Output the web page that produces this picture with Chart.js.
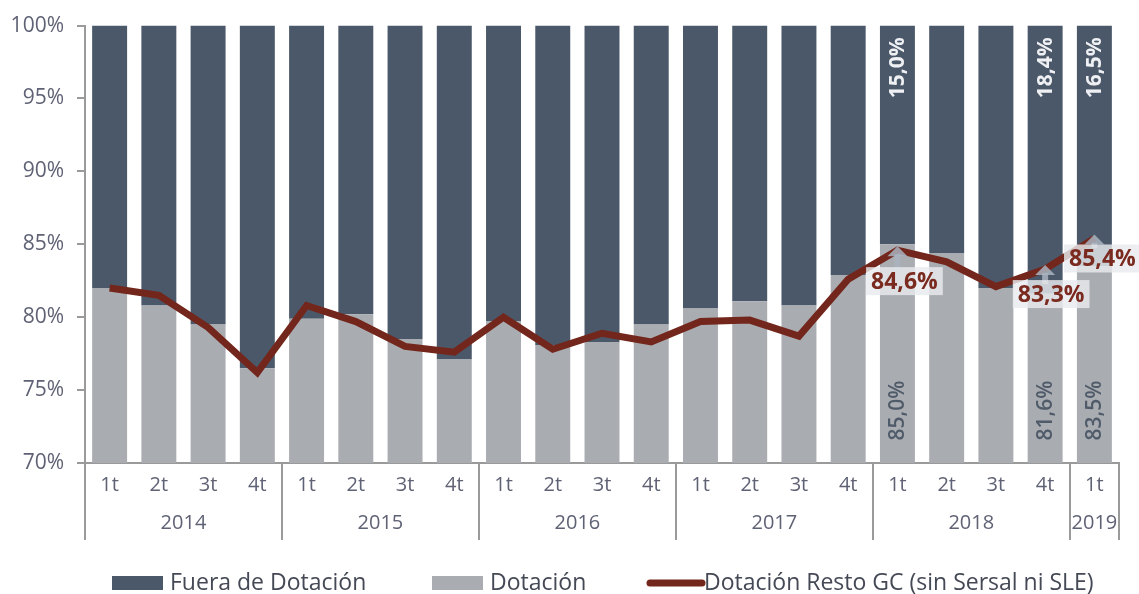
<!DOCTYPE html>
<html>
<head>
<meta charset="utf-8">
<title>Dotación</title>
<script src="https://cdn.jsdelivr.net/npm/chart.js"></script>
<style>
  html, body { margin: 0; padding: 0; background: #fff; }
  #chart { display: block; }
</style>
</head>
<body>
<canvas id="chart" width="1139" height="594"></canvas>
<script>
  const quarters = ['1t','2t','3t','4t','1t','2t','3t','4t','1t','2t','3t','4t','1t','2t','3t','4t','1t','2t','3t','4t','1t'];
  const years = ['2014','2014','2014','2014','2015','2015','2015','2015','2016','2016','2016','2016','2017','2017','2017','2017','2018','2018','2018','2018','2019'];
  const dotacion = [82.0, 80.8, 79.5, 76.5, 79.9, 80.2, 78.5, 77.1, 79.7, 78.1, 78.3, 79.5, 80.6, 81.1, 80.8, 82.9, 85.0, 84.4, 82.0, 81.6, 83.5];
  const fuera = [18.0, 19.2, 20.5, 23.5, 20.1, 19.8, 21.5, 22.9, 20.3, 21.9, 21.7, 20.5, 19.4, 18.9, 19.2, 17.1, 15.0, 15.6, 18.0, 18.4, 16.5];
  const restoGC = [82.0, 81.5, 79.3, 76.2, 80.8, 79.7, 78.0, 77.6, 80.0, 77.8, 78.9, 78.3, 79.7, 79.8, 78.7, 82.6, 84.6, 83.8, 82.1, 83.3, 85.4];
  // which points get a value label
  const barLabelIdx = [16, 19, 20];
  const lineLabelIdx = [16, 19, 20];

  const DARK = '#4b5869';
  const LIGHT = '#a9acb1';
  const LINE = '#73261b';
  const TEXT = '#5f6275';
  const FONT = '"Open Sans", "Noto Sans", sans-serif';

  const fmt = (v) => v.toFixed(1).replace('.', ',') + '%';

  const decorations = {
    id: 'decorations',
    afterDatasetsDraw(chart) {
      const { ctx, scales: { x, y } } = chart;
      const barMeta = chart.getDatasetMeta(0);
      const catW = (x.right - x.left) / quarters.length;

      ctx.save();
      // rotated bar labels
      barLabelIdx.forEach((i) => {
        const cx = barMeta.data[i].x;
        ctx.save();
        ctx.translate(cx + 1, y.getPixelForValue(97.1));
        ctx.rotate(-Math.PI / 2);
        ctx.font = 'bold 21px ' + FONT;
        ctx.fillStyle = '#eef0f3';
        ctx.textAlign = 'center';
        ctx.textBaseline = 'middle';
        ctx.fillText(fmt(fuera[i]), 0, 0);
        ctx.restore();

        ctx.save();
        ctx.translate(cx + 1, y.getPixelForValue(73.6));
        ctx.rotate(-Math.PI / 2);
        ctx.font = '600 21px ' + FONT;
        ctx.fillStyle = '#505b6a';
        ctx.textAlign = 'center';
        ctx.textBaseline = 'middle';
        ctx.fillText(fmt(dotacion[i]), 0, 0);
        ctx.restore();
      });

      // line value labels with light boxes and arrows
      const lineMeta = chart.getDatasetMeta(2);
      const offsets = { 16: [7, 31], 19: [6, 25], 20: [8, 20] };
      lineLabelIdx.forEach((i) => {
        const p = lineMeta.data[i];
        const [dx, dy] = offsets[i];
        const tx = p.x + dx;
        const ty = p.y + dy;
        ctx.font = 'bold 23px ' + FONT;
        const w = ctx.measureText(fmt(restoGC[i])).width + 10;
        const h = 28;
        // arrow
        const ax = barMeta.data[i].x;
        const top = p.y - 4;
        const base = ty - h / 2 + 2;
        ctx.fillStyle = 'rgba(170,180,192,0.85)';
        ctx.fillRect(ax - 3, top + 8, 6, base - top - 6);
        ctx.beginPath();
        ctx.moveTo(ax, top);
        ctx.lineTo(ax - 10, top + 10);
        ctx.lineTo(ax + 10, top + 10);
        ctx.closePath();
        ctx.fill();
        // box
        ctx.fillStyle = 'rgba(232,234,238,0.82)';
        ctx.fillRect(tx - w / 2, ty - h / 2, w, h);
        ctx.fillStyle = '#7a2a1f';
        ctx.textAlign = 'center';
        ctx.textBaseline = 'middle';
        ctx.fillText(fmt(restoGC[i]), tx, ty + 1);
      });

      // year separators and year labels
      ctx.strokeStyle = '#9a9a9a';
      ctx.lineWidth = 2;
      const bottom = x.top;
      let start = 0;
      for (let i = 1; i <= years.length; i++) {
        if (i === years.length || years[i] !== years[start]) {
          const l = x.getPixelForValue(start) - catW / 2;
          const r = x.getPixelForValue(i - 1) + catW / 2;
          ctx.font = '20px ' + FONT;
          ctx.fillStyle = TEXT;
          ctx.textAlign = 'center';
          ctx.textBaseline = 'middle';
          ctx.fillText(years[start], (l + r) / 2, bottom + 60);
          start = i;
        }
      }
      for (let i = 0; i <= years.length; i++) {
        if (i === 0 || i === years.length || years[i] !== years[i - 1]) {
          const px = Math.round(i === years.length ? x.getPixelForValue(i - 1) + catW / 2 : x.getPixelForValue(i) - catW / 2);
          ctx.beginPath();
          ctx.moveTo(px, bottom);
          ctx.lineTo(px, bottom + 77);
          ctx.stroke();
        }
      }

      // legend
      const ly = 583;
      ctx.font = '23px ' + FONT;
      ctx.textAlign = 'left';
      ctx.textBaseline = 'middle';
      const items = [
        { ds: chart.data.datasets[1], x: 112, type: 'box' },
        { ds: chart.data.datasets[0], x: 432, type: 'box' },
        { ds: chart.data.datasets[2], x: 646, type: 'line' }
      ];
      items.forEach((it) => {
        if (it.type === 'box') {
          ctx.fillStyle = it.ds.backgroundColor;
          ctx.fillRect(it.x, ly - 7, 51, 14);
        } else {
          ctx.strokeStyle = it.ds.borderColor;
          ctx.lineWidth = 7;
          ctx.lineCap = 'round';
          ctx.beginPath();
          ctx.moveTo(it.x + 4, ly);
          ctx.lineTo(it.x + 56, ly);
          ctx.stroke();
        }
        ctx.fillStyle = '#444955';
        ctx.fillText(it.ds.label, it.x + 58, ly);
      });
      ctx.restore();
    }
  };

  new Chart(document.getElementById('chart').getContext('2d'), {
    type: 'bar',
    data: {
      labels: quarters,
      datasets: [
        {
          label: 'Dotación',
          data: dotacion,
          backgroundColor: LIGHT,
          stack: 'bars',
          order: 2,
          categoryPercentage: 1,
          barPercentage: 0.71
        },
        {
          label: 'Fuera de Dotación',
          data: fuera,
          backgroundColor: DARK,
          stack: 'bars',
          order: 2,
          categoryPercentage: 1,
          barPercentage: 0.71
        },
        {
          type: 'line',
          label: 'Dotación Resto GC (sin Sersal ni SLE)',
          data: restoGC,
          borderColor: LINE,
          backgroundColor: LINE,
          borderWidth: 7,
          pointRadius: 0,
          tension: 0,
          stack: 'line',
          order: 0
        }
      ]
    },
    options: {
      responsive: false,
      animation: false,
      layout: { padding: { top: 25, right: 20, left: 0, bottom: 0 } },
      plugins: {
        legend: { display: false },
        tooltip: { enabled: false }
      },
      scales: {
        x: {
          stacked: true,
          grid: { display: false, drawTicks: false },
          border: { color: '#9a9a9a', width: 2 },
          ticks: {
            color: TEXT,
            font: { family: FONT, size: 20 },
            padding: 10,
            maxRotation: 0,
            autoSkip: false
          },
          afterFit(scale) { scale.height = 131; }
        },
        y: {
          stacked: true,
          min: 70,
          max: 100,
          grid: { drawOnChartArea: false, drawTicks: true, tickLength: 8, color: '#9a9a9a', lineWidth: 2 },
          border: { color: '#9a9a9a', width: 2 },
          ticks: {
            stepSize: 5,
            color: TEXT,
            font: { family: FONT, size: 21 },
            padding: 13,
            callback: (v) => v + '%'
          },
          afterFit(scale) { scale.width = 85; }
        }
      }
    },
    plugins: [decorations]
  });
</script>
</body>
</html>
